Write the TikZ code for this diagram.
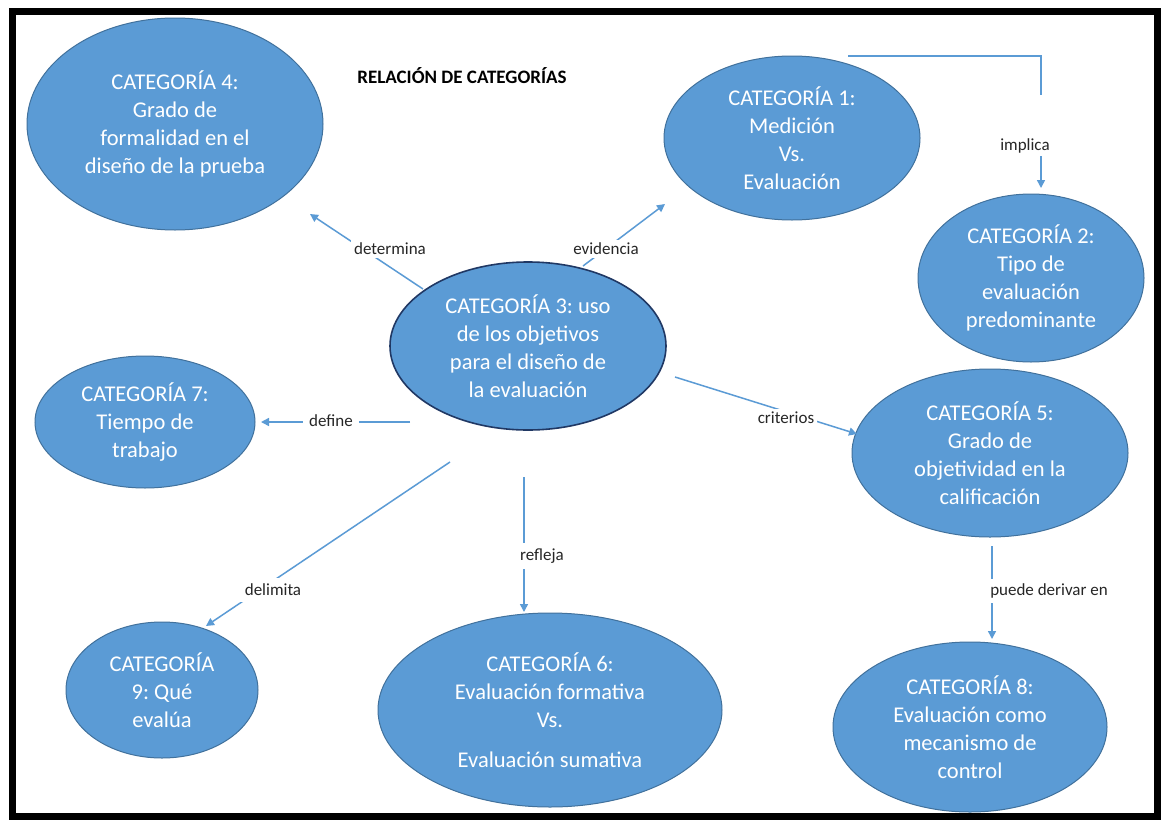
\documentclass[tikz,border=0pt]{standalone}
\usepackage{fontspec}
\setmainfont{Carlito}
\usetikzlibrary{shapes.geometric,arrows.meta}
\definecolor{cfill}{HTML}{5B9BD5}
\definecolor{cedge}{HTML}{41719C}
\definecolor{cdark}{HTML}{203864}
\definecolor{cline}{HTML}{5B9BD5}
\frenchspacing
\begin{document}
\begin{tikzpicture}[x=1pt,y=-1pt,
  cat/.style={ellipse, fill=cfill, draw=cedge, line width=1pt, text=white, align=center, inner sep=0pt, font=\fontsize{22.5}{28}\selectfont},
  lab/.style={fill=white, inner sep=3pt, text=black!85, font=\fontsize{17}{20}\selectfont},
  conn/.style={draw=cline, line width=1.5pt},
  arr/.style={conn, -{Triangle[length=8pt,width=8pt]}}]
\useasboundingbox (0,0) rectangle (1162,822);
\fill[white] (0,0) rectangle (1162,822);
\draw[line width=7pt] (12,11) rectangle (1157,816);

\node[font=\bfseries\fontsize{19}{22}\selectfont] (title) at (462,76) {RELACIÓN DE CATEGORÍAS};

\node[cat, minimum width=296pt, minimum height=212pt] (c4) at (175,124) {CATEGORÍA 4:\\Grado de\\formalidad en el\\diseño de la prueba};
\node[cat, minimum width=256pt, minimum height=164pt] (c1) at (792,138) {CATEGORÍA 1:\\Medición\\Vs.\\Evaluación};
\node[cat, minimum width=226pt, minimum height=168pt] (c2) at (1031,278) {CATEGORÍA 2:\\Tipo de\\evaluación\\predominante};
\node[cat, draw=cdark, line width=1.6pt, minimum width=276pt, minimum height=168pt] (c3) at (528,346) {CATEGORÍA 3: uso\\de los objetivos\\para el diseño de\\la evaluación};
\node[cat, minimum width=220pt, minimum height=132pt] (c7) at (145,422) {CATEGORÍA 7:\\Tiempo de\\trabajo};
\node[cat, minimum width=276pt, minimum height=168pt] (c5) at (990,453) {CATEGORÍA 5:\\Grado de\\objetividad en la\\calificación};
\node[cat, minimum width=274pt, minimum height=170pt] (c8) at (970,727) {CATEGORÍA 8:\\Evaluación como\\mecanismo de\\control};
\node[cat, minimum width=192pt, minimum height=136pt] (c9) at (162,690) {CATEGORÍA\\9: Qué\\evalúa};
\node[cat, minimum width=344pt, minimum height=194pt] (c6) at (550,710) {CATEGORÍA 6:\\Evaluación formativa\\Vs.\\[12pt]Evaluación sumativa};

% determina
\coordinate (d1) at (423,289); \coordinate (d2) at (310,214);
\draw[arr] (d1) -- (d2);
\node[lab] (ld) at (390,249) {determina};
% evidencia
\coordinate (e1) at (583,266); \coordinate (e2) at (665,204);
\draw[arr] (e1) -- (e2);
\node[lab] (le) at (606,249) {evidencia};
% implica
\coordinate (i1) at (848,56); \coordinate (i2) at (1041,95);
\coordinate (i3) at (1041,155); \coordinate (i4) at (1041,188);
\draw[conn] (i1) -| (i2);
\draw[arr] (i3) -- (i4);
\node[lab] (li) at (1025,146) {implica};
% define
\coordinate (f1) at (410,422); \coordinate (f2) at (261,422);
\draw[arr] (f1) -- (f2);
\node[lab, inner xsep=6pt] (lf) at (331,421) {define};
% criterios
\coordinate (k1) at (675,377); \coordinate (k2) at (857,434);
\draw[arr] (k1) -- (k2);
\node[lab] (lk) at (786,418) {criterios};
% delimita
\coordinate (l1) at (450,462); \coordinate (l2) at (206,626);
\draw[arr] (l1) -- (l2);
\node[lab, inner sep=6pt] (ll) at (273,590) {delimita};
% refleja
\coordinate (r1) at (524,477); \coordinate (r2) at (524,612);
\draw[arr] (r1) -- (r2);
\node[lab, inner xsep=6pt, inner ysep=6pt] (lr) at (542,556) {refleja};
% puede derivar en
\coordinate (p1) at (992,546); \coordinate (p2) at (992,639);
\draw[arr] (p1) -- (p2);
\node[lab, inner ysep=5pt] (lp) at (1049,591) {puede derivar en};
\end{tikzpicture}
\end{document}
